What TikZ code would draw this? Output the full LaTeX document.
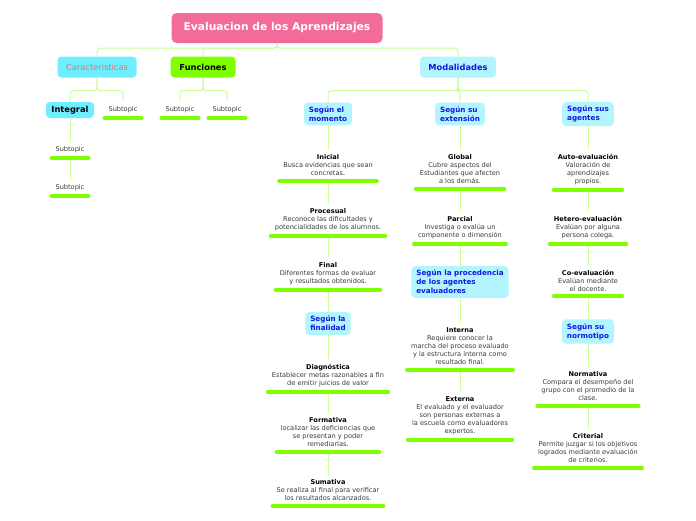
\documentclass[tikz,border=0pt]{standalone}
\usepackage{fontspec}
\setmainfont{DejaVu Sans}

\definecolor{rosa}{HTML}{F26B9B}
\definecolor{cian}{HTML}{6EEEFF}
\definecolor{celeste}{HTML}{B3F5FF}
\definecolor{lima}{HTML}{80FF00}
\definecolor{verdeclaro}{HTML}{CCFF99}
\definecolor{azul}{HTML}{1414E6}
\definecolor{salmon}{HTML}{E8736A}
\definecolor{gris}{HTML}{3A3A3A}

\newcommand{\encab}[1]{\textcolor{black}{\textbf{#1}}}

\begin{document}
\begin{tikzpicture}[
  x=1pt, y=-1pt,
  titulo/.style={rectangle, rounded corners=5pt, fill=rosa, text=white, font=\fontsize{10.7}{12}\selectfont\bfseries, minimum width=211pt, minimum height=30pt},
  rama/.style={rectangle, rounded corners=4pt, minimum height=21pt, font=\fontsize{8.3}{10}\selectfont},
  ramaneg/.style={rama, font=\fontsize{8.3}{10}\selectfont\bfseries},
  modo/.style={rectangle, rounded corners=4pt, fill=celeste, text=azul, align=left, inner xsep=5pt, inner ysep=4pt, font=\fontsize{7.2}{9}\selectfont\bfseries},
  item/.style={align=center, text=gris, inner xsep=4pt, inner ysep=5pt, font=\fontsize{6.6}{8}\selectfont},
  conn/.style={draw=verdeclaro, line width=1pt, rounded corners=3pt},
  subrayado/.style={draw=lima, line width=3.8pt, line cap=round}
]

  % Fondo y margenes
  \fill[white] (0, 0) rectangle (696, 520);
  \useasboundingbox (0, 0) rectangle (696, 520);

  % Nodo central
  \node[titulo] (eval) at (277, 28) {Evaluacion de los Aprendizajes};

  % Ramas principales
  \node[rama, fill=cian, text=salmon, minimum width=79pt] (carac) at (97, 67) {Caracteristicas};
  \node[ramaneg, fill=lima, minimum width=65pt] (func) at (203, 67) {Funciones};
  \node[ramaneg, fill=celeste, text=azul, minimum width=76pt] (modal) at (458, 67) {Modalidades};

  % Caracteristicas y funciones
  \node[ramaneg, fill=cian, minimum width=48pt, minimum height=16pt] (integ) at (70, 110) {Integral};
  \node[item] (sub1) at (123, 109.5) {Subtopic};
  \node[item] (sub2) at (180, 109.5) {Subtopic};
  \node[item] (sub3) at (227, 109.5) {Subtopic};
  \node[item] (sub4) at (70, 149.5) {Subtopic};
  \node[item] (sub5) at (70, 187.5) {Subtopic};

  % Modalidades
  \node[modo] (momento) at (328, 114) {Según el\\momento};
  \node[modo] (extension) at (460, 114) {Según su\\extensión};
  \node[modo] (agentes) at (588, 114) {Según sus\\agentes};

  % Segun el momento
  \node[item] (ini) at (328, 165.5) {\encab{Inicial}\\Busca evidencias que sean\\concretas.};
  \node[item] (pro) at (328, 219.5) {\encab{Procesual}\\Reconoce las dificultades y\\potencialidades de los alumnos.};
  \node[item] (fin) at (328, 273.5) {\encab{Final}\\Diferentes formas de evaluar\\y resultados obtenidos.};
  \node[modo] (finalidad) at (328, 323.5) {Según la\\finalidad};
  \node[item] (dia) at (328, 375.5) {\encab{Diagnóstica}\\Establecer metas razonables a fin\\de emitir juicios de valor};
  \node[item] (form) at (328, 432.5) {\encab{Formativa}\\localizar las deficiencias que\\se presentan y poder\\remediarlas.};
  \node[item] (sum) at (328, 490.5) {\encab{Sumativa}\\Se realiza al final para verificar\\los resultados alcanzados.};

  % Segun su extension
  \node[item] (glo) at (460, 169.5) {\encab{Global}\\Cubre aspectos del\\Estudiantes que afecten\\a los demás.};
  \node[item] (par) at (460, 227.5) {\encab{Parcial}\\Investiga o evalúa un\\componente o dimensión};
  \node[modo] (procedencia) at (460, 282) {Según la procedencia\\de los agentes\\evaluadores};
  \node[item] (inte) at (460, 346.5) {\encab{Interna}\\Requiere conocer la\\marcha del proceso evaluado\\y la estructura interna como\\resultado final.};
  \node[item] (ext) at (460, 415.5) {\encab{Externa}\\El evaluado y el evaluador\\son personas externas a\\la escuela como evaluadores\\expertos.};

  % Segun sus agentes
  \node[item] (auto) at (588, 169.5) {\encab{Auto-evaluación}\\Valoración de\\aprendizajes\\propios.};
  \node[item] (het) at (588, 227.5) {\encab{Hetero-evaluación}\\Evalúan por alguna\\persona colega.};
  \node[item] (coe) at (588, 280.5) {\encab{Co-evaluación}\\Evalúan mediante\\el docente.};
  \node[modo] (normotipo) at (588, 331.5) {Según su\\normotipo};
  \node[item] (nor) at (588, 386.5) {\encab{Normativa}\\Compara el desempeño del\\grupo con el promedio de la\\clase.};
  \node[item] (cri) at (588, 448.5) {\encab{Criterial}\\Permite juzgar si los objetivos\\logrados mediante evaluación\\de criterios.};

  % Conectores en codo
  \draw[conn] (eval.south) -- ++(0, 5) -| (carac.north);
  \draw[conn] (eval.south) -- ++(0, 5) -| (func.north);
  \draw[conn] (eval.south) -- ++(0, 5) -| (modal.north);
  \draw[conn] (carac.south) -- ++(0, 13) -| (integ.north);
  \draw[conn] (carac.south) -- ++(0, 13) -| (sub1.north);
  \draw[conn] (func.south) -- ++(0, 13) -| (sub2.north);
  \draw[conn] (func.south) -- ++(0, 13) -| (sub3.north);
  \draw[conn] (modal.south) -- ++(0, 13) -| (momento.north);
  \draw[conn] (modal.south) -- ++(0, 13) -| (extension.north);
  \draw[conn] (modal.south) -- ++(0, 13) -| (agentes.north);

  % Conectores verticales
  \foreach \a/\b in {integ/sub4, sub4/sub5,
      momento/ini, ini/pro, pro/fin, fin/finalidad, finalidad/dia, dia/form, form/sum,
      extension/glo, glo/par, par/procedencia, procedencia/inte, inte/ext,
      agentes/auto, auto/het, het/coe, coe/normotipo, normotipo/nor, nor/cri}
    \draw[conn] (\a.south) -- (\b.north);

  % Subrayados
  \foreach \n in {sub1, sub2, sub3, sub4, sub5, ini, pro, fin, dia, form, sum,
      glo, par, inte, ext, auto, het, coe, nor, cri}
    \draw[subrayado] (\n.south west) -- (\n.south east);

\end{tikzpicture}
\end{document}
